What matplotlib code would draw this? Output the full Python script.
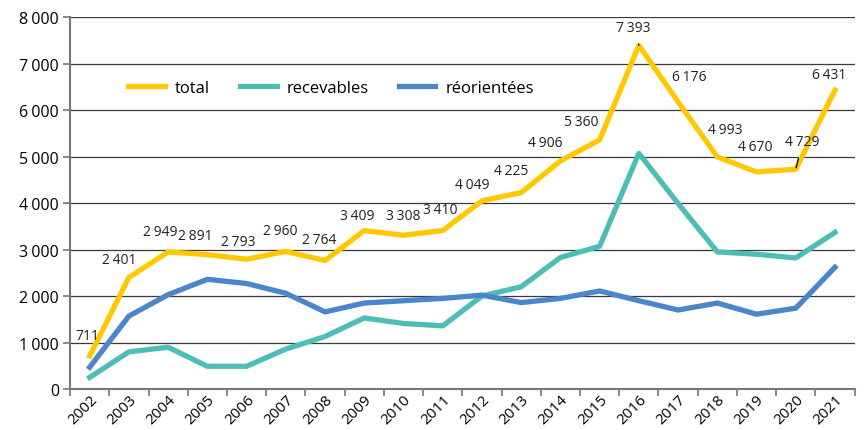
import numpy as np
import matplotlib.pyplot as plt
from matplotlib.ticker import FuncFormatter, FixedLocator

plt.rcParams['font.family'] = ['Open Sans', 'DejaVu Sans']

years = [str(y) for y in range(2002, 2022)]
total = [711, 2401, 2949, 2891, 2793, 2960, 2764, 3409, 3308, 3410,
         4049, 4225, 4906, 5360, 7393, 6176, 4993, 4670, 4729, 6431]
recevables = [250, 800, 900, 490, 490, 860, 1130, 1530, 1410, 1360,
              2000, 2200, 2830, 3070, 5070, 3990, 2950, 2900, 2820, 3370]
reorientees = [470, 1570, 2030, 2360, 2270, 2060, 1660, 1850, 1900, 1950,
               2020, 1860, 1950, 2110, 1900, 1700, 1850, 1610, 1740, 2620]

# label offsets in points (dx, dy) relative to each total point
offsets = [(-2, 15), (-7, 13), (-6, 15), (-9, 14), (-6, 13), (-4, 15), (-4, 15),
           (-5, 11), (0, 14), (-2, 15), (-7, 12), (-7, 16), (-11, 13), (-13, 13),
           (-4, 13), (8, 18), (6, 20), (-1, 18), (5, 20), (-4, 11)]
leader = [14, 18]

def fmt(v):
    return f"{v:,}".replace(",", "\u202f")

fig = plt.figure(figsize=(8.65, 4.31), dpi=100)
ax = fig.add_axes([0.081, 0.095, 0.907, 0.863])

x = np.arange(len(years))
ax.plot(x, total, color='#FFC800', lw=3.8, label='total')
ax.plot(x, recevables, color='#4DBDB6', lw=3.8, label='recevables')
ax.plot(x, reorientees, color='#4A86C9', lw=3.8, label='réorientées')

for i, v in enumerate(total):
    dx, dy = offsets[i]
    if i in leader:
        ax.annotate(fmt(v), (x[i], v), xytext=(dx, dy), textcoords='offset points',
                    ha='center', va='center', fontsize=10, color='#222222',
                    arrowprops=dict(arrowstyle='-', color='black', lw=0.9,
                                    shrinkA=5, shrinkB=1))
    else:
        ax.annotate(fmt(v), (x[i], v), xytext=(dx, dy), textcoords='offset points',
                    ha='center', va='center', fontsize=10, color='#222222')

ax.set_xlim(-0.5, len(years) - 0.5)
ax.set_ylim(0, 8000)
ax.set_yticks(range(0, 8001, 1000))
ax.yaxis.set_major_formatter(FuncFormatter(lambda v, p: fmt(int(v))))
ax.grid(axis='y', color='#3a3a3a', lw=0.9)
ax.set_axisbelow(True)

ax.set_xticks(x)
ax.set_xticklabels(years, rotation=45, ha='right', rotation_mode='anchor', fontsize=11)
ax.xaxis.set_minor_locator(FixedLocator(np.arange(-0.5, len(years), 1)))
ax.tick_params(axis='x', which='major', length=0, pad=2)
ax.tick_params(axis='x', which='minor', length=5, color='#777777', width=1.2)
ax.tick_params(axis='y', length=5, color='#777777', width=1.2, labelsize=11.5, pad=3)

for s in ['top', 'right']:
    ax.spines[s].set_visible(False)
for s in ['left', 'bottom']:
    ax.spines[s].set_color('#777777')
    ax.spines[s].set_linewidth(1.5)

ax.legend(loc='center left', bbox_to_anchor=(0.055, 0.81), ncol=3, frameon=False,
          fontsize=12, handlelength=2.2, columnspacing=1.8, handletextpad=0.6)

fig.savefig('out.png', dpi=100)
